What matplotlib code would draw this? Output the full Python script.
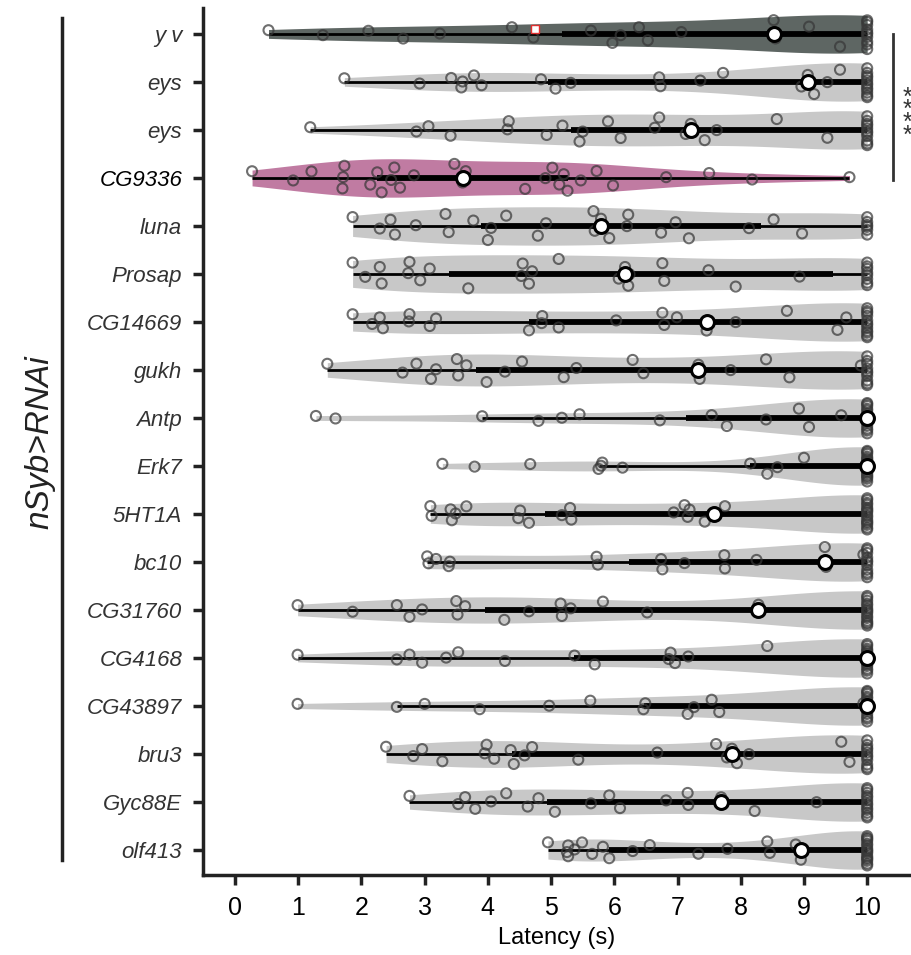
import numpy as np
import matplotlib
matplotlib.use("Agg")
import matplotlib.pyplot as plt
from matplotlib import cbook
import matplotlib.transforms as mtransforms

plt.rcParams['font.family'] = ['Liberation Sans', 'DejaVu Sans']

genotypes = ['y v', 'eys', 'eys', 'CG9336', 'luna', 'Prosap', 'CG14669', 'gukh',
             'Antp', 'Erk7', '5HT1A', 'bc10', 'CG31760', 'CG4168', 'CG43897',
             'bru3', 'Gyc88E', 'olf413']

# latencies (s) below the 10 s cutoff
yv = [0.53, 1.39, 2.11, 2.66, 3.24, 4.38, 4.72, 5.63, 5.97, 6.10, 6.39, 6.53, 7.06,
      8.52, 8.55, 9.08, 9.57]
eys_1 = [1.73, 2.92, 3.42, 3.58, 3.60, 3.78, 3.90, 4.84, 5.07, 5.31, 6.71, 6.73, 7.36,
         7.72, 8.96, 9.06, 9.16, 9.37, 9.57]
eys_2 = [1.19, 2.87, 3.06, 3.41, 4.31, 4.33, 4.93, 5.18, 5.45, 5.50, 5.90, 6.10, 6.64,
         6.71, 7.13, 7.21, 7.43, 7.62, 8.57, 9.37]
cg9336 = [0.27, 0.92, 1.21, 1.70, 1.71, 1.73, 2.14, 2.25, 2.32, 2.47, 2.52, 2.61, 2.83,
          3.47, 3.60, 3.65, 4.59, 4.91, 5.02, 5.13, 5.20, 5.26, 5.47, 5.72, 5.98, 6.82,
          7.50, 8.18, 9.72]
luna = [1.86, 2.29, 2.46, 2.53, 2.86, 3.33, 3.38, 3.77, 4.00, 4.05, 4.29, 4.79, 4.92,
        5.67, 5.69, 5.79, 5.92, 6.20, 6.22, 6.74, 6.97, 7.18, 8.13, 8.52, 8.97]
prosap = [1.86, 2.06, 2.29, 2.32, 2.74, 2.76, 2.93, 3.08, 3.69, 4.53, 4.55, 4.65, 4.70,
          5.12, 6.07, 6.17, 6.22, 6.24, 6.76, 6.79, 7.49, 7.92, 8.93]
cg14669 = [1.86, 2.17, 2.29, 2.34, 2.75, 2.76, 3.08, 3.18, 4.65, 4.85, 4.86, 5.12, 6.03,
           6.76, 6.79, 6.99, 7.46, 7.92, 8.73, 9.53, 9.67]
gukh = [1.46, 2.65, 2.87, 3.10, 3.18, 3.51, 3.53, 3.66, 3.98, 4.27, 4.54, 5.20, 5.40,
        6.29, 6.46, 7.33, 7.35, 7.84, 8.40, 8.77, 9.90]
antp = [1.28, 1.59, 3.91, 4.80, 5.17, 5.45, 6.72, 7.54, 7.78, 8.40, 8.92, 9.08, 9.59]
erk7 = [3.28, 3.79, 4.67, 5.75, 5.79, 5.81, 6.13, 8.15, 8.42, 8.58, 9.00]
ht1a = [3.09, 3.11, 3.41, 3.43, 3.49, 3.66, 4.48, 4.51, 4.65, 5.17, 5.30, 5.32, 6.94,
        7.11, 7.16, 7.19, 7.43, 7.58, 7.75]
bc10 = [3.04, 3.06, 3.18, 3.38, 3.40, 5.72, 5.74, 6.74, 6.76, 7.11, 7.74, 7.75, 8.25,
        9.33, 9.35, 9.94]
cg31760 = [0.99, 1.86, 2.56, 2.76, 2.96, 3.50, 3.52, 3.64, 4.26, 4.65, 5.15, 5.17, 5.31,
           5.82, 6.52, 8.28]
cg4168 = [0.99, 2.56, 2.76, 2.96, 3.34, 3.53, 4.27, 5.37, 5.69, 6.86, 6.89, 6.96, 7.17,
          8.42]
cg43897 = [0.99, 2.56, 3.00, 3.87, 4.97, 5.62, 6.46, 6.49, 7.16, 7.26, 7.54, 7.66, 9.94]
bru3 = [2.39, 2.82, 2.96, 3.28, 3.95, 3.98, 4.10, 4.36, 4.41, 4.58, 4.70, 5.43, 6.68,
        7.61, 7.78, 7.86, 7.94, 8.13, 9.59, 9.72]
gyc88e = [2.76, 3.53, 3.64, 3.80, 4.05, 4.29, 4.63, 4.80, 5.06, 5.63, 5.92, 6.09, 6.82,
          7.16, 7.17, 7.69, 8.22, 9.20]
olf413 = [4.95, 5.25, 5.27, 5.27, 5.37, 5.49, 5.65, 5.82, 5.92, 6.29, 6.56, 7.33, 7.79,
          8.42, 8.46, 8.87, 8.95]

# flies that did not respond before the 10 s cutoff
n_capped = [10, 12, 11, 0, 6, 8, 12, 10, 14, 18, 16, 11, 15, 15, 14, 11, 13, 16]
cutoff = 10.0

# odd red marker sitting on the y v row
flag_x, flag_y = 4.75, -0.1

rows = [yv, eys_1, eys_2, cg9336, luna, prosap, cg14669, gukh, antp, erk7, ht1a,
        bc10, cg31760, cg4168, cg43897, bru3, gyc88e, olf413]

fills = ['#5e6663', '#c8c8c8', '#c8c8c8', '#c07ba2'] + ['#c8c8c8'] * 14

fig = plt.figure(figsize=(9.12, 9.55), dpi=100)
ax = fig.add_axes([0.2226, 0.0838, 0.7754, 0.9078])

golden = 0.6180339887
for i, (vals, n10) in enumerate(zip(rows, n_capped)):
    data = np.sort(np.r_[vals, np.full(n10, cutoff)])
    # gaussian kde, scott bandwidth, cut at data range, scaled to equal width
    bw = data.std(ddof=1) * len(data) ** -0.2
    grid = np.linspace(data.min(), data.max(), 300)
    dens = np.exp(-0.5 * ((grid[:, None] - data[None, :]) / bw) ** 2).sum(1)
    half = 0.4 * dens / dens.max()
    ax.fill_between(grid, i - half, i + half, color=fills[i], lw=0, zorder=1)

    st = cbook.boxplot_stats(data)[0]
    ax.plot([st['whislo'], st['whishi']], [i, i], color='black', lw=2,
            solid_capstyle='butt', zorder=2)
    ax.plot([st['q1'], st['q3']], [i, i], color='black', lw=4.2,
            solid_capstyle='butt', zorder=3)

    # sina-style spread inside the violin
    u = ((np.arange(len(data)) * golden) % 1) * 2 - 1
    off = u * 0.85 * np.interp(data, grid, half)
    ax.scatter(data, i + off, s=52, facecolors='none',
               edgecolors=(0.22, 0.22, 0.22, 0.72), linewidths=1.5, zorder=4)
    ax.plot(st['med'], i, 'o', ms=10, mfc='white', mec='black', mew=2.2, zorder=5)

ax.plot(flag_x, flag_y, 's', ms=6, mfc='white', mec='#e03030', mew=1, zorder=6)

ax.set_xlim(-0.506, 10.68)
ax.set_ylim(17.52, -0.54)
ax.set_xticks(range(0, 11))
ax.set_yticks(range(len(genotypes)))
ax.set_yticklabels(genotypes, fontstyle='italic', fontsize=16, color='#333333')
ax.get_yticklabels()[3].set_color('black')
ax.tick_params(axis='y', length=7, width=2.5, pad=8, color='#222222')
ax.tick_params(axis='x', length=7, width=2.5, pad=8, labelsize=18, color='#222222')
ax.set_xlabel('Latency (s)', fontsize=17, labelpad=5)

for side in ['top', 'right']:
    ax.spines[side].set_visible(False)
for side in ['left', 'bottom']:
    ax.spines[side].set_linewidth(2.5)
    ax.spines[side].set_color('#222222')

# significance bar between controls and CG9336
ax.plot([10.41, 10.41], [0, 3.04], color='#333333', lw=2, clip_on=False)
ax.text(10.63, 1.72, '*\n*\n*\n*', ha='center', va='center', fontsize=18,
        linespacing=0.4, color='#333333')

# group bracket with label on the left
trans = mtransforms.blended_transform_factory(ax.transAxes, ax.transData)
ax.plot([-0.199, -0.199], [-0.33, 17.21], color='#222222', lw=2.5,
        transform=trans, clip_on=False)
ax.text(-0.23, 8.5, 'nSyb>RNAi', rotation=90, ha='center', va='center',
        fontsize=24, fontstyle='italic', color='#222222', transform=trans)

fig.savefig('out.png', dpi=100)
